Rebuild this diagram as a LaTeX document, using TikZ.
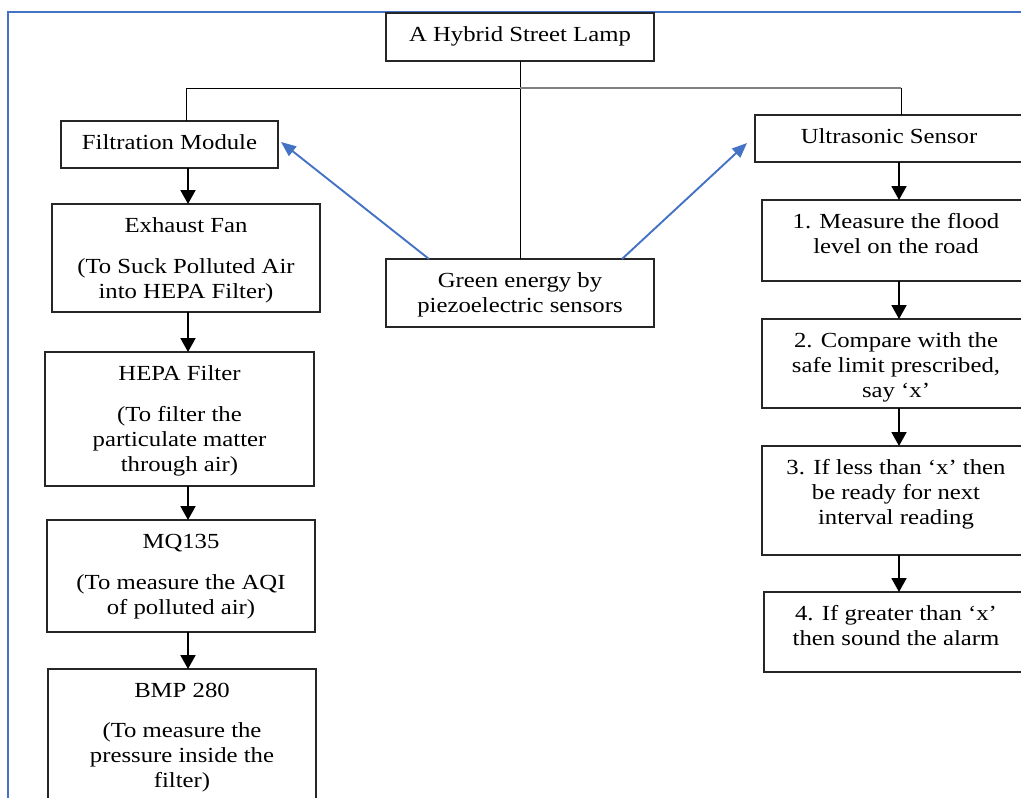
\documentclass[tikz,border=0pt]{standalone}
\usepackage{fontspec}
\setmainfont{Liberation Serif}[FakeStretch=1.15]
\usetikzlibrary{arrows.meta}
\definecolor{frameblue}{HTML}{4472C4}
\newcommand\boxtxt[3]{\parbox[c][#2pt][t]{#1pt}{\centering\rule{0pt}{28pt}#3}}
\begin{document}
\begin{tikzpicture}[x=1pt,y=-1pt,
  box/.style={draw=black!85, line width=1.5pt, inner sep=0pt, outer sep=0pt, anchor=north west, font=\fontsize{21.5}{25}\selectfont},
  arr/.style={line width=1.9pt, -{Triangle[width=15pt,length=14pt]}},
  barr/.style={draw=frameblue, line width=1.9pt, -{Triangle[width=12pt,length=15pt]}, color=frameblue},
  tree/.style={line width=0.9pt},
  treegray/.style={line width=1.8pt, draw=black!50},
  frame/.style={draw=frameblue, line width=2pt}]
\useasboundingbox (0,0) rectangle (1021,798);
\clip (0,0) rectangle (1021,798);
\fill[white] (0,0) rectangle (1021,798);
% outer frame
\draw[frame] (8,805) -- (8,12) -- (1030,12);

% nodes
\node[box] (top) at (386,13) {\boxtxt{268}{48}{A Hybrid Street Lamp}};
\node[box] (filt) at (61,121) {\boxtxt{217}{47}{Filtration Module}};
\node[box] (exh) at (52,204) {\boxtxt{268}{108}{Exhaust Fan\\[16.5pt](To Suck Polluted Air\\into HEPA Filter)}};
\node[box] (hepa) at (45,352) {\boxtxt{269}{134}{HEPA Filter\\[16.5pt](To filter the\\particulate matter\\through air)}};
\node[box] (mq) at (47,520) {\boxtxt{268}{112}{MQ135\\[16.5pt](To measure the AQI\\of polluted air)}};
\node[box] (bmp) at (48,669) {\boxtxt{268}{140}{BMP 280\\[15pt](To measure the\\pressure inside the\\filter)}};
\node[box] (green) at (386,259) {\boxtxt{268}{68}{Green energy by\\piezoelectric sensors}};
\node[box] (ultra) at (755,115) {\boxtxt{268}{47}{Ultrasonic Sensor}};
\node[box] (r1) at (762,200) {\boxtxt{268}{81}{1. Measure the flood\\level on the road}};
\node[box] (r2) at (762,319) {\boxtxt{268}{89}{2. Compare with the\\safe limit prescribed,\\say ‘x’}};
\node[box] (r3) at (762,446) {\boxtxt{268}{109}{3. If less than ‘x’ then\\be ready for next\\interval reading}};
\node[box] (r4) at (764,592) {\boxtxt{264}{80}{4. If greater than ‘x’\\then sound the alarm}};

% tree lines
\coordinate (hl) at (186,88);
\coordinate (hm) at (520,88);
\coordinate (hr) at (901,88);
\draw[tree] (top.south) -- (green.north);
\draw[tree] (hm) -- (hl) -- (hl |- filt.north);
\draw[treegray] (hm) -- (hr);
\draw[tree] (hr) -- (hr |- ultra.north);

% column arrows
\coordinate (lc) at (188,0);
\coordinate (rc) at (899,0);
\draw[arr] (lc |- filt.south) -- (lc |- exh.north);
\draw[arr] (lc |- exh.south) -- (lc |- hepa.north);
\draw[arr] (lc |- hepa.south) -- (lc |- mq.north);
\draw[arr] (lc |- mq.south) -- (lc |- bmp.north);
\draw[arr] (rc |- ultra.south) -- (rc |- r1.north);
\draw[arr] (rc |- r1.south) -- (rc |- r2.north);
\draw[arr] (rc |- r2.south) -- (rc |- r3.north);
\draw[arr] (rc |- r3.south) -- (rc |- r4.north);

% blue arrows
\draw[barr] ([xshift=43pt]green.north west) -- ([xshift=3pt,yshift=-21pt]filt.north east);
\draw[barr] ([xshift=-32pt]green.north east) -- ([xshift=-8pt,yshift=-28pt]ultra.north west);
\end{tikzpicture}
\end{document}
